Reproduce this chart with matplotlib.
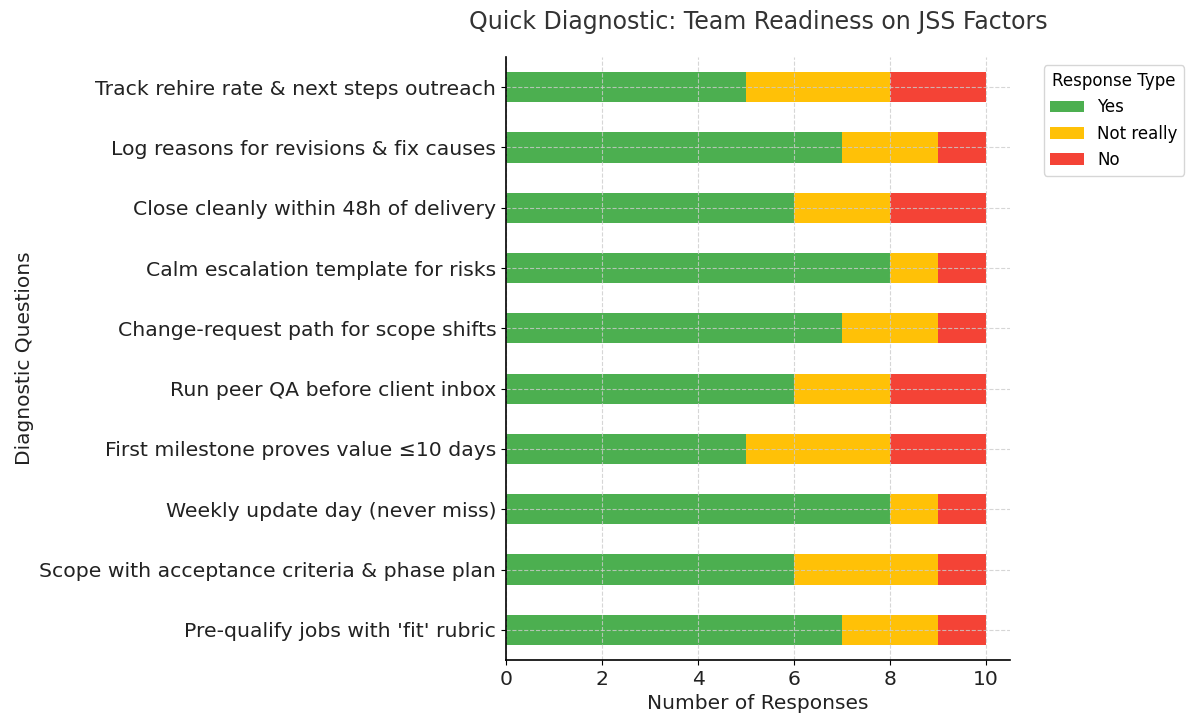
import matplotlib.pyplot as plt
import numpy as np

# Fragen (von unten nach oben)
questions = [
    "Pre-qualify jobs with 'fit' rubric",
    "Scope with acceptance criteria & phase plan",
    "Weekly update day (never miss)",
    "First milestone proves value \u226410 days",
    "Run peer QA before client inbox",
    "Change-request path for scope shifts",
    "Calm escalation template for risks",
    "Close cleanly within 48h of delivery",
    "Log reasons for revisions & fix causes",
    "Track rehire rate & next steps outreach",
]
yes = [7, 6, 8, 5, 6, 7, 8, 6, 7, 5]
not_really = [2, 3, 1, 3, 2, 2, 1, 2, 2, 3]
no = [1, 1, 1, 2, 2, 1, 1, 2, 1, 2]

series = ["Yes", "Not really", "No"]
colors = ["#4CAF50", "#FFC107", "#F44336"]

fig = plt.figure(figsize=(12, 7.28), dpi=100)
ax = fig.add_axes([0.4217, 0.0934, 0.42, 0.8283])

y = np.arange(len(questions))
left = np.zeros(len(questions))
for name, vals, c in zip(series, [yes, not_really, no], colors):
    ax.barh(y, vals, left=left, height=0.5, color=c, label=name)
    left += np.array(vals)

ax.set_yticks(y)
ax.set_yticklabels(questions, fontsize=14.7, color="#222222")
ax.set_ylim(-0.5, len(questions) - 0.5)
ax.set_xlim(0, 10.5)
ax.set_xticks([0, 2, 4, 6, 8, 10])
ax.tick_params(axis="x", labelsize=14.7, labelcolor="#222222")
ax.set_xlabel("Number of Responses", fontsize=14.5, color="#222222")
ax.set_ylabel("Diagnostic Questions", fontsize=14.5, color="#222222")
ax.set_title("Quick Diagnostic: Team Readiness on JSS Factors", fontsize=17, pad=20, color="#333333")

ax.grid(True, linestyle="--", color="#cccccc", linewidth=0.8, alpha=0.8)
ax.set_axisbelow(False)
ax.spines["top"].set_visible(False)
ax.spines["right"].set_visible(False)
for s in ("left", "bottom"):
    ax.spines[s].set_zorder(5)
    ax.spines[s].set_linewidth(1.2)

ax.legend(title="Response Type", loc="upper left", bbox_to_anchor=(1.05, 1.0),
          fontsize=12, title_fontsize=12)

fig.savefig("out.png", dpi=100)
